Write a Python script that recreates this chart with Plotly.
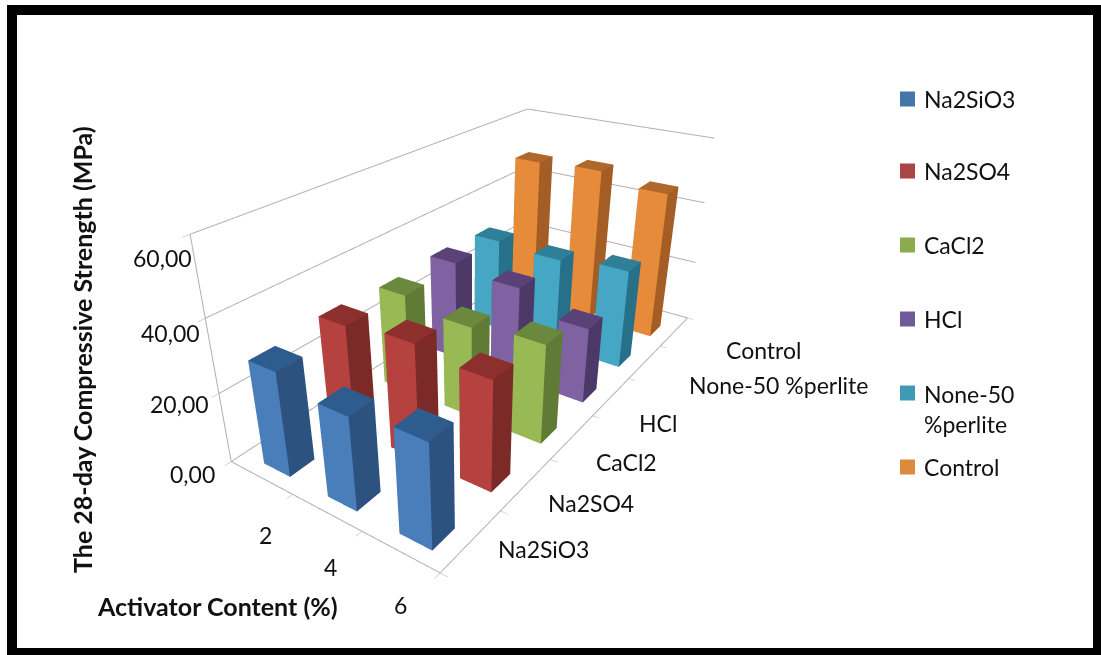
import plotly.graph_objects as go

activator = ["2", "4", "6"]
series = ["Na2SiO3", "Na2SO4", "CaCl2", "HCl", "None-50 %perlite", "Control"]
legend_labels = ["Na2SiO3", "Na2SO4", "CaCl2", "HCl", "None-50<br>%perlite", "Control"]
z_ticks = [0, 20, 40, 60]
z_tick_labels = ["0,00", "20,00", "40,00", "60,00"]

na2sio3 = [29.5, 26, 28.5]
na2so4 = [31, 33, 31]
cacl2 = [30, 27, 29]
hcl = [31, 29, 23]
none50 = [30, 29, 31]
control = [49, 50, 47]
values = [na2sio3, na2so4, cacl2, hcl, none50, control]

light = ["#4a7ebb", "#b5423f", "#98b954", "#7f62a2", "#45a7c3", "#e68b39"]
top = ["#2f5c8f", "#8c2f2d", "#6a893c", "#5a4279", "#2f7f97", "#b0672b"]
side = ["#2d5280", "#7b2a28", "#5f7b36", "#4d3968", "#26708a", "#a45e25"]
swatch = ["#4675ab", "#aa4543", "#8bab50", "#71589a", "#3f9ab3", "#dd8a3c"]

BWX, BWY = 0.21, 0.18
CX, CY = 0.55, 0.36
fig = go.Figure()
for s, row in enumerate(values):
    X, Y, Z, I, J, K, C = [], [], [], [], [], [], []
    for a, h in enumerate(row):
        x0, x1 = a + CX - BWX, a + CX + BWX
        y0, y1 = s + CY - BWY, s + CY + BWY
        n = len(X)
        X += [x0, x1, x1, x0, x0, x1, x1, x0]
        Y += [y0, y0, y1, y1, y0, y0, y1, y1]
        Z += [0, 0, 0, 0, h, h, h, h]
        faces = [
            (4, 5, 6, top[s]), (4, 6, 7, top[s]),
            (0, 1, 5, light[s]), (0, 5, 4, light[s]),
            (1, 2, 6, side[s]), (1, 6, 5, side[s]),
            (3, 2, 6, side[s]), (3, 6, 7, side[s]),
            (0, 3, 7, side[s]), (0, 7, 4, side[s]),
        ]
        for f in faces:
            I.append(n + f[0]); J.append(n + f[1]); K.append(n + f[2]); C.append(f[3])
    fig.add_trace(go.Mesh3d(x=X, y=Y, z=Z, i=I, j=J, k=K, facecolor=C, flatshading=True,
                            lighting=dict(ambient=1, diffuse=0, specular=0, fresnel=0),
                            hoverinfo="skip", showscale=False, name=series[s]))

nx, ny, zmax = len(activator), len(series), z_ticks[-1]
GRID = "#b0b0b0"
lines = [([0, 0], [0, 0], [0, zmax]), ([0, nx], [0, 0], [0, 0]), ([nx, nx], [0, ny], [0, 0])]
for zt in z_ticks:
    lines.append(([0, 0, nx], [0, ny, ny], [zt, zt, zt]))
for fx, fy, fz in lines:
    fig.add_trace(go.Scatter3d(x=fx, y=fy, z=fz, mode="lines", line=dict(color=GRID, width=2),
                               hoverinfo="skip", showlegend=False))

axis_common = dict(showbackground=False, showspikes=False, title=dict(text=""), zeroline=False,
                   showticklabels=False, showgrid=False, ticks="outside", ticklen=6, tickcolor=GRID)
fig.update_layout(
    width=1101, height=655, margin=dict(l=0, r=0, t=0, b=0),
    paper_bgcolor="white", showlegend=False,
    font=dict(family="Lato", size=23, color="#111"),
    scene=dict(
        domain=dict(x=[0, 0.855], y=[0, 1]),
        aspectmode="manual", aspectratio=dict(x=0.9, y=1.92, z=0.84),
        camera=dict(eye=dict(x=1.4725, y=-2.2799, z=1.2907), center=dict(x=-0.0305, y=-0.1139, z=-0.1403),
                    up=dict(x=0, y=0, z=1)),
        xaxis=dict(range=[0, nx], tickvals=[0, 1, 2, 3], **axis_common),
        yaxis=dict(range=[0, ny], tickvals=list(range(ny + 1)), **axis_common),
        zaxis=dict(range=[0, zmax], tickvals=z_ticks, **axis_common),
    ),
    shapes=[dict(type="rect", xref="paper", yref="paper", x0=12 / 1101, x1=1098 / 1101, y0=1 - 653 / 655,
                 y1=1 - 10 / 655, line=dict(color="black", width=10))],
)

def label(text, px, py, size=23, angle=0, anchor="center", bold=False):
    fig.add_annotation(x=px / 1101, y=1 - py / 655, xref="paper", yref="paper",
                       text=f"<b>{text}</b>" if bold else text, showarrow=False, xanchor=anchor, yanchor="middle",
                       align="left" if anchor == "left" else "center", textangle=angle,
                       font=dict(size=size, color="#111"))

for t, px, py in zip(z_tick_labels, [192, 179, 170, 162], [474, 404, 333, 258]):
    label(t, px, py)
for t, px, py in zip(activator, [265, 330, 400], [535, 567, 605]):
    label(t, px, py)
for t, px, py in zip(series, [543, 591, 626, 658, 778, 763], [549, 503, 462, 423, 385, 350]):
    label(t, px, py)

legend_y = [99, 171, 245, 319, 409, 467]
for lab, col, ly in zip(legend_labels, swatch, legend_y):
    label(lab, 922, ly, anchor="left")
    sy = ly if "<br>" not in lab else ly - 16
    fig.add_shape(type="rect", xref="paper", yref="paper", x0=900 / 1101, x1=915 / 1101,
                  y0=1 - (sy + 7.5) / 655, y1=1 - (sy - 7.5) / 655, fillcolor=col, line=dict(width=0))

label("Activator Content (%)", 217, 606, size=25, bold=True)
label("The 28-day Compressive Strength (MPa)", 82, 350, size=25, angle=-90, bold=True)
fig.write_html("out.html", post_script="document.body.style.margin='0';", config={"displayModeBar": False})
